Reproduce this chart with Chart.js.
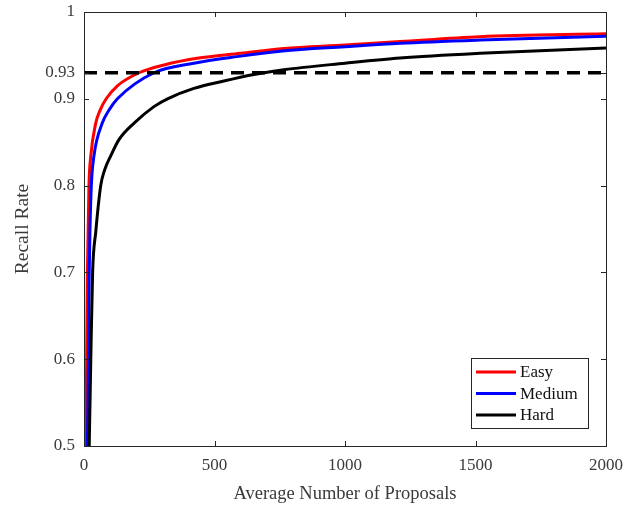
<!DOCTYPE html>
<html><head><meta charset="utf-8">
<script src="https://cdn.jsdelivr.net/npm/chart.js@4/dist/chart.umd.min.js"></script>
<style>html,body{margin:0;padding:0;background:#fff}</style>
</head><body>
<canvas id="c" width="644" height="508" style="width:644px;height:508px;display:block"></canvas>
<script>
// ---- data ----
const seriesNames = ["Easy", "Medium", "Hard"];
const easyX = [8, 10, 13, 19, 26, 45, 62, 85, 128, 211, 307, 433, 600, 766, 1000, 1211, 1517, 2000];
const easyY = [0.5, 0.6, 0.7, 0.8, 0.834, 0.872, 0.887, 0.9, 0.915, 0.93, 0.939, 0.9466, 0.9524, 0.958, 0.962, 0.966, 0.9716, 0.975];
const mediumX = [13, 17, 20, 23, 28, 38, 70, 96, 128, 268, 421, 586, 760, 1000, 1211, 1517, 2000];
const mediumY = [0.5, 0.6, 0.7, 0.75, 0.8, 0.834, 0.872, 0.887, 0.9, 0.93, 0.941, 0.9486, 0.955, 0.96, 0.964, 0.9677, 0.972];
const hardX = [20, 26, 33, 45, 64, 79, 102, 134, 192, 268, 320, 421, 536, 651, 766, 1000, 1211, 1517, 2000];
const hardY = [0.5, 0.6, 0.7, 0.7465, 0.8, 0.818, 0.834, 0.853, 0.872, 0.891, 0.9, 0.912, 0.9205, 0.928, 0.9335, 0.941, 0.947, 0.9524, 0.9585];
const thresholdX = [0, 2000];
const thresholdY = [0.93, 0.93];
const xTicks = [0, 500, 1000, 1500, 2000];
const yTicks = [0.5, 0.6, 0.7, 0.8, 0.9, 0.93, 1];

const pts = (xs, ys) => xs.map((x, i) => ({x: x, y: ys[i]}));
const FONT = "'Liberation Serif', 'DejaVu Serif', serif";
const TXT = '#3a3a3a';
const AX = '#262626';

const framePlugin = {
  id: 'frame',
  afterDatasetsDraw(chart) {
    const {ctx, chartArea: a, scales: {x, y}} = chart;
    ctx.save();
    ctx.strokeStyle = AX;
    ctx.lineWidth = 1;
    ctx.strokeRect(Math.round(a.left) + 0.5, Math.round(a.top) + 0.5, Math.round(a.right - a.left), Math.round(a.bottom - a.top));
    const tl = 5;
    ctx.beginPath();
    xTicks.forEach(v => {
      const p = Math.round(x.getPixelForValue(v)) + 0.5;
      ctx.moveTo(p, a.bottom); ctx.lineTo(p, a.bottom - tl);
      ctx.moveTo(p, a.top); ctx.lineTo(p, a.top + tl);
    });
    yTicks.forEach(v => {
      const p = Math.round(y.getPixelForValue(v)) + 0.5;
      ctx.moveTo(a.left, p); ctx.lineTo(a.left + tl, p);
      ctx.moveTo(a.right, p); ctx.lineTo(a.right - tl, p);
    });
    ctx.stroke();
    ctx.restore();
  },
  afterDraw(chart) {
    const {ctx, chartArea: a} = chart;
    const w = 117, h = 70;
    const L = a.right - 18 - w, T = a.bottom - 18 - h;
    ctx.save();
    ctx.fillStyle = '#fff';
    ctx.fillRect(L, T, w, h);
    ctx.strokeStyle = AX;
    ctx.lineWidth = 1;
    ctx.strokeRect(L + 0.5, T + 0.5, w, h);
    ctx.font = "17px " + FONT;
    ctx.textBaseline = 'middle';
    const ds = chart.data.datasets.filter(d => seriesNames.includes(d.label));
    ds.forEach((d, i) => {
      const yy = T + 14 + i * 21.5;
      ctx.strokeStyle = d.borderColor;
      ctx.lineWidth = 3;
      ctx.beginPath(); ctx.moveTo(L + 5, yy); ctx.lineTo(L + 45, yy); ctx.stroke();
      ctx.fillStyle = '#111';
      ctx.fillText(d.label, L + 49, yy + 1);
    });
    ctx.restore();
  }
};

new Chart(document.getElementById('c'), {
  type: 'line',
  data: {
    datasets: [
      {label: 'threshold', data: pts(thresholdX, thresholdY), borderColor: '#000', borderWidth: 3.5, borderDash: [13, 8], pointRadius: 0, order: -1},
      {label: seriesNames[0], data: pts(easyX, easyY), borderColor: '#ff0000', borderWidth: 3, pointRadius: 0, cubicInterpolationMode: 'monotone', order: 3},
      {label: seriesNames[1], data: pts(mediumX, mediumY), borderColor: '#0000ff', borderWidth: 3, pointRadius: 0, cubicInterpolationMode: 'monotone', order: 2},
      {label: seriesNames[2], data: pts(hardX, hardY), borderColor: '#000000', borderWidth: 3, pointRadius: 0, cubicInterpolationMode: 'monotone', order: 1}
    ]
  },
  options: {
    responsive: false,
    animation: false,
    devicePixelRatio: 1,
    layout: {padding: {left: 0, right: 38, top: 12, bottom: 0}},
    plugins: {legend: {display: false}, tooltip: {enabled: false}},
    scales: {
      x: {
        type: 'linear', min: 0, max: 2000,
        afterBuildTicks: s => { s.ticks = xTicks.map(v => ({value: v})); },
        afterFit: s => { s.height = 62; s.paddingLeft = 0; s.paddingRight = 0; },
        grid: {display: false, drawTicks: false},
        border: {display: false},
        ticks: {padding: 9, color: TXT, font: {family: FONT, size: 17}, maxRotation: 0, callback: v => String(v)},
        title: {display: true, text: 'Average Number of Proposals', color: TXT, font: {family: FONT, size: 18.5}, padding: {top: 0, bottom: 3}}
      },
      y: {
        type: 'linear', min: 0.5, max: 1,
        afterBuildTicks: s => { s.ticks = yTicks.map(v => ({value: v})); },
        afterFit: s => { s.width = 84; s.paddingTop = 0; s.paddingBottom = 0; },
        grid: {display: false, drawTicks: false},
        border: {display: false},
        ticks: {padding: 9, color: TXT, font: {family: FONT, size: 17}, callback: v => String(v)},
        title: {display: true, text: 'Recall Rate', color: TXT, font: {family: FONT, size: 19.5}, padding: {top: 11, bottom: 0}}
      }
    }
  },
  plugins: [framePlugin]
});
</script>
</body></html>
